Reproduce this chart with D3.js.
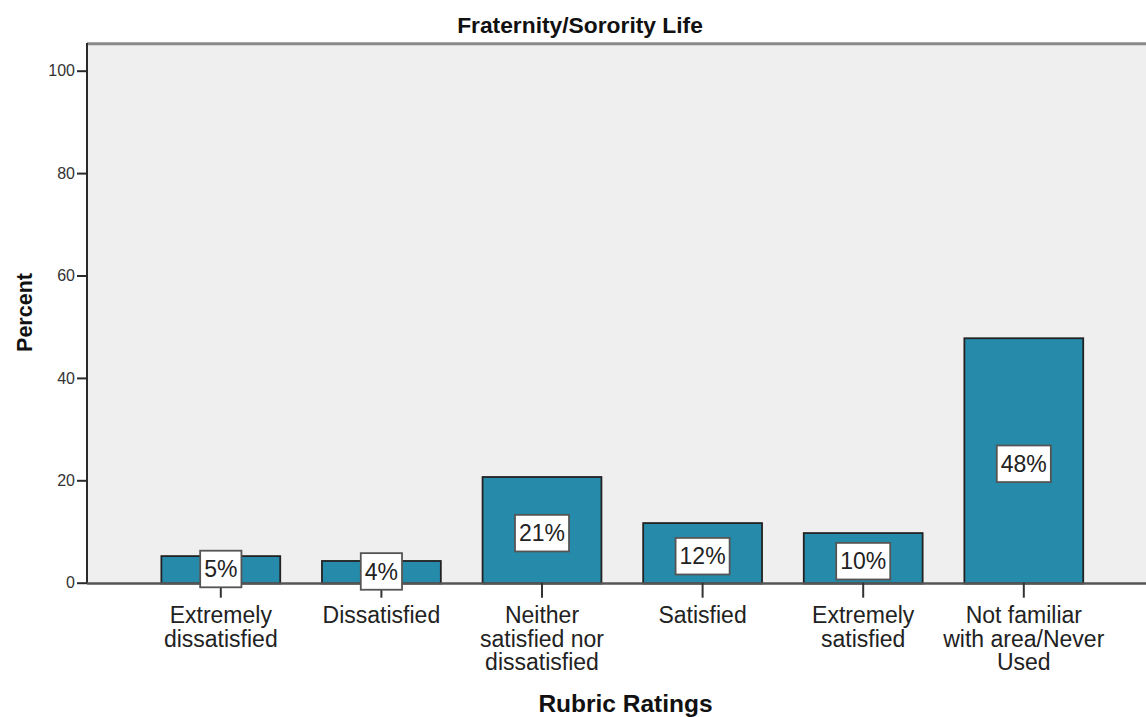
<!DOCTYPE html>
<html><head><meta charset="utf-8">
<script src="https://cdn.jsdelivr.net/npm/d3@7"></script>
<style>body{margin:0;background:#fff}svg{display:block}</style>
</head><body>
<script>
const categories = [["Extremely","dissatisfied"],["Dissatisfied"],["Neither","satisfied nor","dissatisfied"],["Satisfied"],["Extremely","satisfied"],["Not familiar","with area/Never","Used"]];
const values = [5.35, 4.4, 20.8, 11.8, 9.85, 47.9];
const valueLabels = ["5%","4%","21%","12%","10%","48%"];
const yTicks = [0,20,40,60,80,100];
const chartTitle = "Fraternity/Sorority Life";
const xTitle = "Rubric Ratings";
const yTitle = "Percent";

(function(){
const W=1146,H=717;
const svg=d3.select("body").append("svg").attr("width",W).attr("height",H);
const pLeft=87, pTop=43, pRight=1146, pBottom=583;
const font="Liberation Sans, Arial, sans-serif";

const y=d3.scaleLinear().domain([0,100]).range([582.7,70.7]);
const x=d3.scaleBand().domain(d3.range(categories.length)).range([140.5,1104.1]).paddingInner(0.25).paddingOuter(0.125);

svg.append("rect").attr("x",pLeft).attr("y",pTop).attr("width",pRight-pLeft).attr("height",pBottom-pTop).attr("fill","#efefef");
svg.append("line").attr("x1",pLeft).attr("x2",pRight).attr("y1",pTop+0.8).attr("y2",pTop+0.8).attr("stroke","#8a8a8a").attr("stroke-width",3);

// bars
svg.selectAll("rect.bar").data(values).join("rect").attr("class","bar")
  .attr("x",(d,i)=>x(i)+0.8).attr("width",x.bandwidth()-1.6)
  .attr("y",d=>y(d)+0.8).attr("height",d=>y(0)-y(d))
  .attr("fill","#268bab").attr("stroke","#222").attr("stroke-width",1.8);

// y axis
const ya=svg.append("g").attr("transform",`translate(${pLeft},0)`).call(d3.axisLeft(y).tickValues(yTicks).tickSize(10).tickPadding(2));
ya.select(".domain").attr("d",`M0,${pTop}V${pBottom}`).attr("stroke","#2a2a2a").attr("stroke-width",2);
ya.selectAll(".tick line").attr("stroke","#2a2a2a").attr("stroke-width",2);
ya.selectAll(".tick text").attr("font-family",font).attr("font-size",16).attr("fill","#333");

// baseline
svg.append("line").attr("x1",pLeft).attr("x2",pRight).attr("y1",y(0)+0.8).attr("y2",y(0)+0.8).attr("stroke","#555").attr("stroke-width",2.5);

// x ticks
const xa=svg.append("g").attr("transform",`translate(0,${y(0)})`).call(d3.axisBottom(x).tickSize(15).tickFormat(""));
xa.select(".domain").remove();
xa.selectAll(".tick line").attr("stroke","#333").attr("stroke-width",2);

// category labels
categories.forEach((lines,i)=>{
  const t=svg.append("text").attr("font-family",font).attr("font-size",23).attr("fill","#222").attr("text-anchor","middle");
  lines.forEach((l,j)=>t.append("tspan").attr("x",x(i)+x.bandwidth()/2).attr("y",623.3+j*23.3).text(l));
});

// value labels
values.forEach((v,i)=>{
  const cx=x(i)+x.bandwidth()/2;
  const h=y(0)-y(v);
  const cy=(y(v)+y(0))/2 + (h>40 ? 3.7 : 0);
  const g=svg.append("g");
  const t=g.append("text").attr("x",cx).attr("y",cy+8.3).attr("text-anchor","middle").attr("font-family",font).attr("font-size",23).attr("fill","#222").text(valueLabels[i]);
  const bb=t.node().getBBox();
  g.insert("rect","text").attr("x",bb.x-4).attr("y",cy-18.3).attr("width",bb.width+8).attr("height",36.6).attr("fill","#fff").attr("stroke","#555").attr("stroke-width",1.8);
});

// titles
svg.append("text").attr("x",580).attr("y",33).attr("text-anchor","middle").attr("font-family",font).attr("font-weight","bold").attr("font-size",22.8).attr("fill","#111").text(chartTitle);
svg.append("text").attr("x",625.5).attr("y",711.5).attr("text-anchor","middle").attr("font-family",font).attr("font-weight","bold").attr("font-size",24.5).attr("fill","#111").text(xTitle);
svg.append("text").attr("transform","translate(31.5,312.5) rotate(-90)").attr("text-anchor","middle").attr("font-family",font).attr("font-weight","bold").attr("font-size",21.5).attr("fill","#111").text(yTitle);
})();
</script>
</body></html>
